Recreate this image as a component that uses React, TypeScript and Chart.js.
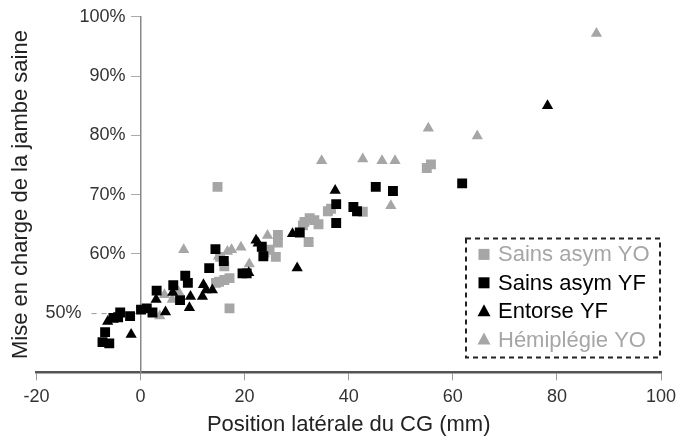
import React, { useEffect, useRef } from 'react';
import { Chart, registerables } from 'chart.js';

Chart.register(...registerables);

// ---- data ----
const seriesNames = ['Sains asym YO', 'Sains asym YF', 'Entorse YF', 'Hémiplégie YO'];

const sainsAsymYO: [number, number][] = [
  [14.8, 71.3], [17.1, 50.8], [55.0, 74.5], [55.8, 75.1], [42.7, 67.1],
  [36.0, 67.2], [36.6, 67.6], [31.5, 65.4], [32.5, 66.0], [33.4, 65.7],
  [34.2, 65.0], [31.2, 64.8], [32.3, 62.0], [26.4, 63.2], [26.4, 61.9],
  [26.0, 59.5], [24.8, 60.7], [23.8, 60.2], [15.3, 59.5], [16.1, 57.9],
  [15.1, 55.3], [16.1, 55.6], [17.1, 55.9], [14.5, 55.1],
];

const sainsAsymYF: [number, number][] = [
  [45.2, 71.3], [48.5, 70.6], [61.8, 71.9], [37.6, 68.4], [37.6, 65.2],
  [40.9, 67.9], [41.6, 67.2], [30.6, 63.6], [14.4, 60.8], [13.2, 57.6],
  [16.0, 58.8], [19.6, 56.7], [20.4, 56.7], [23.3, 61.2], [23.6, 59.6],
  [8.6, 56.3], [9.1, 55.1], [6.3, 54.7], [3.1, 53.8], [7.6, 52.2],
  [2.3, 50.1], [1.2, 50.8], [0.1, 50.6], [-2.0, 49.5], [-3.9, 50.1],
  [-4.3, 49.3], [-5.2, 49.2], [-6.8, 46.8], [-7.3, 45.1], [-6.0, 44.9],
];

const entorseYF: [number, number][] = [
  [78.2, 85.0], [37.4, 70.7], [30.1, 57.6], [29.2, 63.4], [22.2, 62.3],
  [22.6, 61.8], [20.8, 56.8], [13.8, 53.9], [12.1, 54.8], [11.9, 52.8],
  [9.4, 50.9], [9.6, 52.8], [4.8, 50.2], [3.0, 52.3], [-1.8, 46.4],
  [-6.3, 48.6], [6.2, 53.5], [12.6, 53.9],
];

const hemiplegieYO: [number, number][] = [
  [87.6, 97.2], [64.7, 79.9], [55.3, 81.2], [48.1, 68.1], [48.9, 75.7],
  [46.4, 75.7], [42.7, 76.0], [34.8, 75.7], [8.3, 60.7], [16.7, 60.4],
  [17.5, 60.7], [19.3, 61.1], [20.9, 58.3], [24.4, 63.1], [15.0, 59.6],
  [4.6, 53.1], [7.3, 53.6], [3.7, 49.5], [6.1, 52.3],
];

const xMin = -20;
const xMax = 100;
const xStep = 20;
const yMin = 40;
const yMax = 100;
const yStep = 10;

const xTitle = 'Position latérale du CG (mm)';
const yTitle = 'Mise en charge de la jambe saine';

const GRAY = '#a6a6a6';
const BLACK = '#000000';
const FONT = "'Liberation Sans', Arial, Helvetica, sans-serif";

const toPoints = (arr: [number, number][]) => arr.map(([x, y]) => ({ x, y }));

const legendAndTickPlugin = {
  id: 'customLegend',
  afterDraw(chart: any) {
    const { ctx, chartArea, scales } = chart;
    const yScale = scales.y;
    const xScale = scales.x;
    const x0 = xScale.getPixelForValue(0);
    const y50 = yScale.getPixelForValue(50);

    ctx.save();
    // shifted 50% label with dashed leader
    ctx.font = `18px ${FONT}`;
    ctx.fillStyle = '#333';
    ctx.textAlign = 'right';
    ctx.textBaseline = 'middle';
    ctx.fillText('50%', x0 - 59, y50);
    ctx.strokeStyle = '#999';
    ctx.lineWidth = 1;
    ctx.setLineDash([5, 5]);
    ctx.beginPath();
    ctx.moveTo(x0 - 49, y50 + 0.5);
    ctx.lineTo(x0 - 34, y50 + 0.5);
    ctx.stroke();

    // legend box
    const right = chartArea.right - 1;
    const bottom = chartArea.bottom - 15;
    const w = 194;
    const h = 119;
    const left = right - w;
    const top = bottom - h;
    ctx.setLineDash([5, 4]);
    ctx.lineWidth = 2;
    ctx.strokeStyle = '#222';
    ctx.strokeRect(left, top, w, h);
    ctx.setLineDash([]);

    const rowH = 28.4;
    chart.data.datasets.forEach((ds: any, i: number) => {
      const cy = top + 16 + i * rowH;
      const mx = left + 18;
      ctx.fillStyle = ds.backgroundColor;
      if (ds.pointStyle === 'rect') {
        ctx.fillRect(mx - 5.5, cy - 5.5, 11, 11);
      } else {
        ctx.beginPath();
        ctx.moveTo(mx, cy - 7);
        ctx.lineTo(mx + 6.5, cy + 5);
        ctx.lineTo(mx - 6.5, cy + 5);
        ctx.closePath();
        ctx.fill();
      }
      ctx.font = `22px ${FONT}`;
      ctx.textAlign = 'left';
      ctx.textBaseline = 'middle';
      ctx.fillStyle = ds.backgroundColor;
      ctx.fillText(ds.label, left + 32, cy + 1);
    });
    ctx.restore();
  },
};

export default function App() {
  const canvasRef = useRef<HTMLCanvasElement | null>(null);

  useEffect(() => {
    if (!canvasRef.current) return;
    const mk = (label: string, data: [number, number][], color: string, style: string, order: number) => ({
      label,
      data: toPoints(data),
      backgroundColor: color,
      borderColor: color,
      borderWidth: 0,
      pointStyle: style,
      pointRadius: style === 'rect' ? 7 : 6.5,
      showLine: false,
      order,
    });
    const chart = new Chart(canvasRef.current, {
      type: 'scatter',
      data: {
        datasets: [
          mk(seriesNames[0], sainsAsymYO, GRAY, 'rect', 2),
          mk(seriesNames[1], sainsAsymYF, BLACK, 'rect', 1),
          mk(seriesNames[2], entorseYF, BLACK, 'triangle', 1),
          mk(seriesNames[3], hemiplegieYO, GRAY, 'triangle', 2),
        ] as any,
      },
      options: {
        animation: false,
        responsive: false,
        maintainAspectRatio: false,
        layout: { padding: { left: 4, top: 16, right: 12, bottom: 0 } },
        plugins: { legend: { display: false }, tooltip: { enabled: false } },
        scales: {
          x: {
            type: 'linear',
            position: 'bottom',
            min: xMin,
            max: xMax,
            afterFit: (s: any) => {
              s.paddingRight = 16;
            },
            ticks: { stepSize: xStep, font: { size: 18, family: FONT }, color: '#333', padding: 6 },
            grid: { drawOnChartArea: false, drawTicks: true, tickLength: 8, tickColor: '#999', tickWidth: 1 },
            border: { color: '#555', width: 2.5 },
            title: {
              display: true,
              text: xTitle,
              font: { size: 22, family: FONT, lineHeight: 1.0 },
              color: '#222',
              padding: { top: 0, bottom: 0 },
            },
          },
          y: {
            type: 'linear',
            axis: 'y',
            position: { x: 0 },
            min: yMin,
            max: yMax,
            ticks: {
              stepSize: yStep,
              font: { size: 18, family: FONT },
              color: '#333',
              padding: 6,
              // trailing spaces keep the right-aligned labels clear of the tick marks
              callback: (v: any) => (v === 40 || v === 50 ? '' : `${v}%   `),
            },
            grid: {
              drawOnChartArea: false,
              tickLength: 9,
              tickColor: (c: any) => (c.tick && c.tick.value === 40 ? 'rgba(0,0,0,0)' : '#aaa'),
            },
            border: { color: '#888', width: 1.5 },
          },
          yTitle: {
            type: 'linear',
            axis: 'y',
            position: 'left',
            min: yMin,
            max: yMax,
            ticks: { display: false },
            grid: { display: false, drawTicks: false },
            border: { display: false },
            title: {
              display: true,
              text: yTitle,
              font: { size: 22, family: FONT },
              color: '#222',
              padding: { top: 4, bottom: 2 },
            },
          },
        } as any,
      },
      plugins: [legendAndTickPlugin],
    });
    return () => chart.destroy();
  }, []);

  return (
    <div style={{ position: 'absolute', left: 0, top: 0, width: 677, height: 436, background: '#fff' }}>
      <canvas ref={canvasRef} width={677} height={436} style={{ display: 'block' }} />
    </div>
  );
}
